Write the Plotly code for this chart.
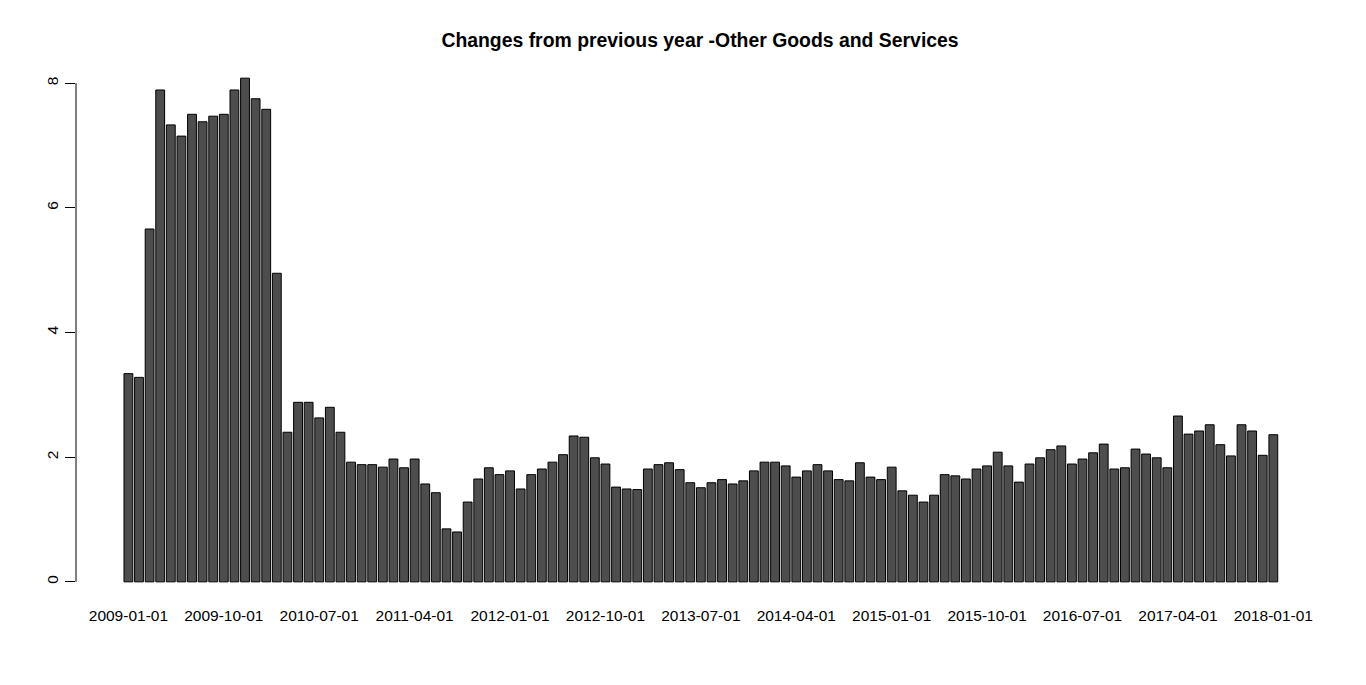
import pandas as pd
import plotly.graph_objects as go

# Monthly observations (first day of month)
months = [d.strftime("%Y-%m-%d") for d in pd.date_range("2009-01-01", "2018-01-01", freq="MS")]

# Year-over-year % change, Other Goods and Services
changes = [
    3.34, 3.28, 5.66, 7.89, 7.33, 7.15, 7.50, 7.38, 7.47, 7.50, 7.89, 8.08,
    7.75, 7.58, 4.95, 2.40, 2.88, 2.88, 2.63, 2.80, 2.40, 1.92, 1.88, 1.88,
    1.84, 1.97, 1.83, 1.97, 1.57, 1.43, 0.85, 0.80, 1.28, 1.65, 1.83, 1.72,
    1.78, 1.49, 1.72, 1.81, 1.92, 2.04, 2.34, 2.32, 1.99, 1.89, 1.52, 1.49,
    1.48, 1.81, 1.88, 1.91, 1.80, 1.59, 1.51, 1.59, 1.64, 1.57, 1.62, 1.78,
    1.92, 1.92, 1.86, 1.68, 1.78, 1.88, 1.78, 1.64, 1.62, 1.91, 1.68, 1.64,
    1.84, 1.46, 1.39, 1.28, 1.39, 1.72, 1.70, 1.65, 1.81, 1.86, 2.08, 1.86,
    1.60, 1.89, 1.99, 2.12, 2.18, 1.89, 1.97, 2.07, 2.21, 1.81, 1.83, 2.13,
    2.05, 1.99, 1.83, 2.66, 2.37, 2.42, 2.52, 2.20, 2.02, 2.52, 2.42, 2.03,
    2.36,
]

tick_labels = months[::9]
y_ticks = [0, 2, 4, 6, 8]

title_text = "Changes from previous year -Other Goods and Services"

fig = go.Figure()
fig.add_trace(go.Bar(
    x=months,
    y=changes,
    marker=dict(color="#4D4D4D", line=dict(color="black", width=1)),
    hoverinfo="x+y",
))

fig.update_layout(
    width=1366,
    height=685,
    paper_bgcolor="white",
    plot_bgcolor="white",
    bargap=0.2 / 1.2,
    showlegend=False,
    margin=dict(l=68, r=50, t=50, b=91),
    font=dict(family="Liberation Sans, Arial, sans-serif", color="black", size=15.5),
    title=dict(
        text="<b>" + title_text + "</b>",
        x=0.5, xref="paper", xanchor="center",
        y=1 - 32 / 685, yref="container", yanchor="middle",
        font=dict(size=19.4, color="black"),
    ),
)

n = len(months)
fig.update_xaxes(
    type="category",
    range=[-4.943, n - 1 + 4.78],
    tickvals=tick_labels,
    ticktext=tick_labels,
    tickangle=0,
    showgrid=False,
    zeroline=False,
    showline=False,
    ticks="",
    ticklabelstandoff=2,
)

fig.update_yaxes(
    range=[-0.04 * max(changes), 1.04 * max(changes)],
    tickvals=y_ticks,
    ticktext=[str(v) for v in y_ticks],
    tickangle=-90,
    ticks="outside",
    ticklen=10,
    tickwidth=1,
    tickcolor="black",
    showgrid=False,
    zeroline=False,
    showline=False,
    ticklabelstandoff=1,
)

# R-style axis line spanning only the tick range
fig.add_shape(type="line", xref="paper", yref="y",
              x0=0, x1=0, y0=min(y_ticks), y1=max(y_ticks),
              line=dict(color="black", width=1))

fig.write_html("out.html")
